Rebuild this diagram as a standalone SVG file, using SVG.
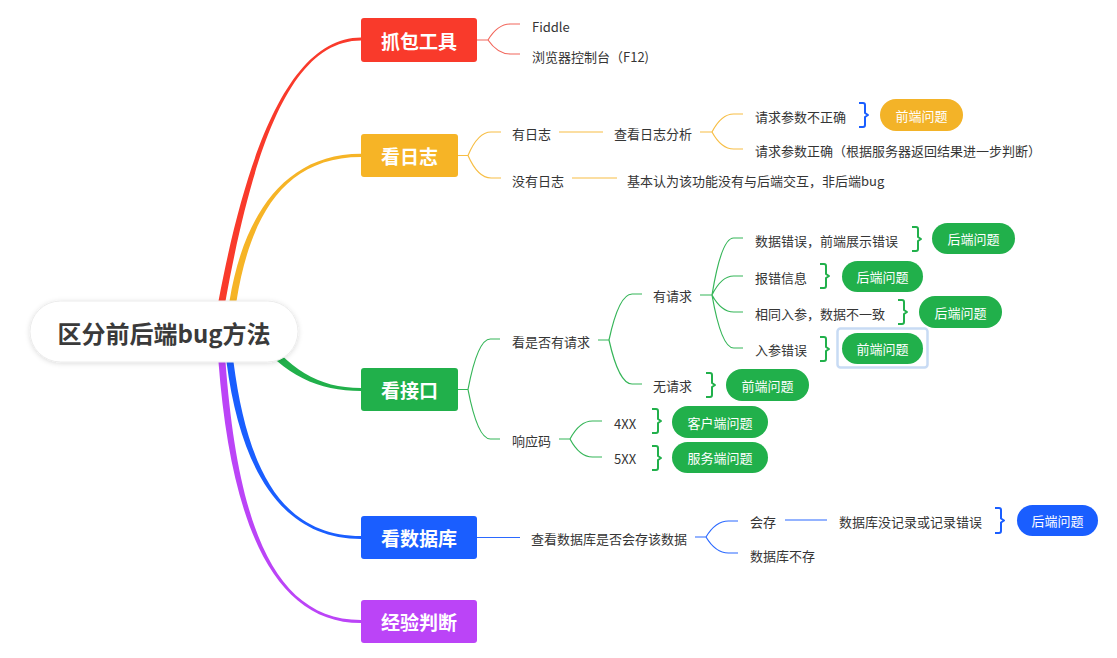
<svg xmlns="http://www.w3.org/2000/svg" width="1117" height="658" viewBox="0 0 1117 658">
<style>
.t{font-family:"Noto Sans CJK SC","Noto Sans",sans-serif;font-size:13px;fill:#353535;dominant-baseline:central}
.bt{font-family:"Noto Sans CJK SC","Noto Sans",sans-serif;font-size:19px;font-weight:bold;fill:#fff;text-anchor:middle;dominant-baseline:central}
.pt{font-family:"Noto Sans CJK SC","Noto Sans",sans-serif;font-size:13px;fill:#fff;text-anchor:middle;dominant-baseline:central}
.ln{fill:none;stroke-width:1.2}
.br{fill:none;stroke-width:2;stroke-linejoin:round}
.r{stroke:#F2675C}.y{stroke:#F7BE45}.g{stroke:#35B558}.b{stroke:#2B69FF}
.gb{stroke:#21B04B}.bb{stroke:#1A5EFF}
.pg{fill:#21B04B}.pb{fill:#1A5EFF}.py{fill:#F3B328}
</style>
<defs>
<filter id="sh" x="-20%" y="-30%" width="140%" height="160%">
<feDropShadow dx="0" dy="1" stdDeviation="2.5" flood-color="#000" flood-opacity="0.14"/>
</filter>
</defs>
<rect width="1117" height="658" fill="#fff"/>
<g id="connectors">
<path d="M218.5 301 C247 150 290 37.5 361 37.5 L361 40.5 C290 40.5 253 150 225.5 301 Z" fill="#F93A2B"/>
<path d="M229.5 301 C242.5 220 282 153.8 361 153.8 L361 157 C282 157 249.5 220 236.5 301 Z" fill="#F6B426"/>
<path d="M258 327 C288 369 318 388 361 388 L361 391 C318 391 282 375 252 333 Z" fill="#21B04B"/>
<path d="M233.5 362 C247.5 470 282 536 361 536 L361 539 C282 539 240.5 470 226.5 362 Z" fill="#1A5EFF"/>
<path d="M225.5 362 C237.5 520 272 620 361 620 L361 623 C272 623 230.5 520 218.5 362 Z" fill="#BB44F7"/>
<path class="ln r" d="M477 40 H488 M488 40 Q497.6 24 510.4 24 H520 M488 40 Q497.6 54 510.4 54 H520"/>
<path class="ln y" d="M458 155.5 H468 M468 155.5 Q477.9 132 491.1 132 H501 M468 155.5 Q477.9 178 491.1 178 H501 M559 132 H603 M700 132 H712 M712 132 Q721.3 114 733.7 114 H743 M712 132 Q721.3 149 733.7 149 H743 M572 178 H617"/>
<path class="ln g" d="M458 389.5 H468 M468 389.5 Q477.6 339 490.4 339 H500 M468 389.5 Q477.6 439 490.4 439 H500 M598 340 H609 M609 340 Q618.9 294 632.1 294 H642 M609 340 Q618.9 384 632.1 384 H642 M700 295 H712 M712 295 Q721.3 238 733.7 238 H743 M712 295 Q721.3 276 733.7 276 H743 M712 295 Q721.3 312 733.7 312 H743 M712 295 Q721.3 348 733.7 348 H743 M559 439 H570 M570 439 Q579.6 421 592.4 421 H602 M570 439 Q579.6 457 592.4 457 H602"/>
<path class="ln b" d="M477 537.5 H520 M695 537 H706 M706 537 Q715.6 521 728.4 521 H738 M706 537 Q715.6 553 728.4 553 H738 M785 520 H827"/>
</g>
<g id="root">
<rect x="30" y="301" width="268" height="61" rx="30.5" fill="#fff" stroke="#ececec" filter="url(#sh)"/>
<text x="164" y="332" style="font-family:'Noto Sans CJK SC','Noto Sans',sans-serif;font-size:24px;font-weight:bold;fill:#3a3a3a;text-anchor:middle;dominant-baseline:central">区分前后端bug方法</text>
</g>
<g id="n-zhuabao"><rect x="361" y="18" width="116" height="44" rx="3" fill="#F93A2B"/><text class="bt" x="419" y="40">抓包工具</text></g>
<g id="n-rizhi"><rect x="361" y="134" width="97" height="43" rx="3" fill="#F6B426"/><text class="bt" x="409.5" y="155.5">看日志</text></g>
<g id="n-jiekou"><rect x="361" y="368" width="97" height="43" rx="3" fill="#21B04B"/><text class="bt" x="409.5" y="389.5">看接口</text></g>
<g id="n-shujuku"><rect x="361" y="516" width="116" height="43" rx="3" fill="#1A5EFF"/><text class="bt" x="419" y="537.5">看数据库</text></g>
<g id="n-jingyan"><rect x="361" y="600" width="116" height="43" rx="3" fill="#BB44F7"/><text class="bt" x="419" y="621.5">经验判断</text></g>

<g id="n-fiddle"><text class="t" x="532" y="26">Fiddle</text></g>
<g id="n-browser"><text class="t" x="532" y="56">浏览器控制台（F12)</text></g>
<g id="n-yourizhi"><text class="t" x="512" y="133">有日志</text></g>
<g id="n-meiyourizhi"><text class="t" x="512" y="180">没有日志</text></g>
<g id="n-chakanrizhi"><text class="t" x="614" y="133">查看日志分析</text></g>
<g id="n-buzhengque"><text class="t" x="755" y="116">请求参数不正确</text></g>
<g id="n-zhengque"><text class="t" x="755" y="150">请求参数正确（根据服务器返回结果进一步判断）</text></g>
<g id="n-jiben"><text class="t" x="627" y="180">基本认为该功能没有与后端交互，非后端bug</text></g>
<g id="n-kanshifou"><text class="t" x="512" y="341">看是否有请求</text></g>
<g id="n-youqingqiu"><text class="t" x="653" y="295">有请求</text></g>
<g id="n-wuqingqiu"><text class="t" x="653" y="385">无请求</text></g>
<g id="n-shujucuowu"><text class="t" x="755" y="240">数据错误，前端展示错误</text></g>
<g id="n-baocuo"><text class="t" x="755" y="277">报错信息</text></g>
<g id="n-xiangtong"><text class="t" x="755" y="313">相同入参，数据不一致</text></g>
<g id="n-rucan"><text class="t" x="755" y="349">入参错误</text></g>
<g id="n-xiangyingma"><text class="t" x="512" y="440">响应码</text></g>
<g id="n-4xx"><text class="t" x="614" y="423">4XX</text></g>
<g id="n-5xx"><text class="t" x="614" y="458">5XX</text></g>
<g id="n-chakanshujuku"><text class="t" x="531" y="538">查看数据库是否会存该数据</text></g>
<g id="n-huicun"><text class="t" x="750" y="521">会存</text></g>
<g id="n-bucun"><text class="t" x="750" y="555">数据库不存</text></g>
<g id="n-meijilu"><text class="t" x="839" y="521">数据库没记录或记录错误</text></g>

<g id="summaries">
<path class="br bb" d="M859 103 h4 q2 0 2 2 v8 l3 2 l-3 2 v8 q0 2 -2 2 h-4"/>
<path class="br gb" d="M912 227 h4 q2 0 2 2 v8 l3 2 l-3 2 v8 q0 2 -2 2 h-4"/>
<path class="br gb" d="M820 264 h4 q2 0 2 2 v8 l3 2 l-3 2 v8 q0 2 -2 2 h-4"/>
<path class="br gb" d="M898 300 h4 q2 0 2 2 v8 l3 2 l-3 2 v8 q0 2 -2 2 h-4"/>
<path class="br gb" d="M820 337 h4 q2 0 2 2 v8 l3 2 l-3 2 v8 q0 2 -2 2 h-4"/>
<path class="br gb" d="M706 373 h4 q2 0 2 2 v8 l3 2 l-3 2 v8 q0 2 -2 2 h-4"/>
<path class="br gb" d="M652 409 h4 q2 0 2 2 v8 l3 2 l-3 2 v8 q0 2 -2 2 h-4"/>
<path class="br gb" d="M652 446 h4 q2 0 2 2 v8 l3 2 l-3 2 v8 q0 2 -2 2 h-4"/>
<path class="br bb" d="M995 508 h4 q2 0 2 2 v8.5 l3 2 l-3 2 v8.5 q0 2 -2 2 h-4"/>
</g>

<g id="p-qianduan-y"><rect class="py" x="880" y="99" width="83" height="32" rx="16"/><text class="pt" x="921.5" y="115">前端问题</text></g>
<g id="p-houduan-1"><rect class="pg" x="932" y="223" width="83" height="31" rx="15.5"/><text class="pt" x="973.5" y="238.5">后端问题</text></g>
<g id="p-houduan-2"><rect class="pg" x="842" y="261" width="81" height="31" rx="15.5"/><text class="pt" x="882.5" y="276.5">后端问题</text></g>
<g id="p-houduan-3"><rect class="pg" x="919" y="296" width="83" height="32" rx="16"/><text class="pt" x="960.5" y="312">后端问题</text></g>
<g id="p-qianduan-1"><rect x="837.5" y="328.5" width="90" height="39" rx="3" fill="none" stroke="#C8DBF4" stroke-width="2.5"/><rect class="pg" x="842" y="333" width="81" height="31" rx="15.5"/><text class="pt" x="882.5" y="348.5">前端问题</text></g>
<g id="p-qianduan-2"><rect class="pg" x="726" y="369" width="83" height="32" rx="16"/><text class="pt" x="767.5" y="385">前端问题</text></g>
<g id="p-kehuduan"><rect class="pg" x="672" y="406" width="96" height="32" rx="16"/><text class="pt" x="720" y="422">客户端问题</text></g>
<g id="p-fuwuduan"><rect class="pg" x="672" y="442" width="96" height="31" rx="15.5"/><text class="pt" x="720" y="457.5">服务端问题</text></g>
<g id="p-houduan-b"><rect class="pb" x="1017" y="505" width="81" height="31" rx="15.5"/><text class="pt" x="1057.5" y="520.5">后端问题</text></g>
</svg>
